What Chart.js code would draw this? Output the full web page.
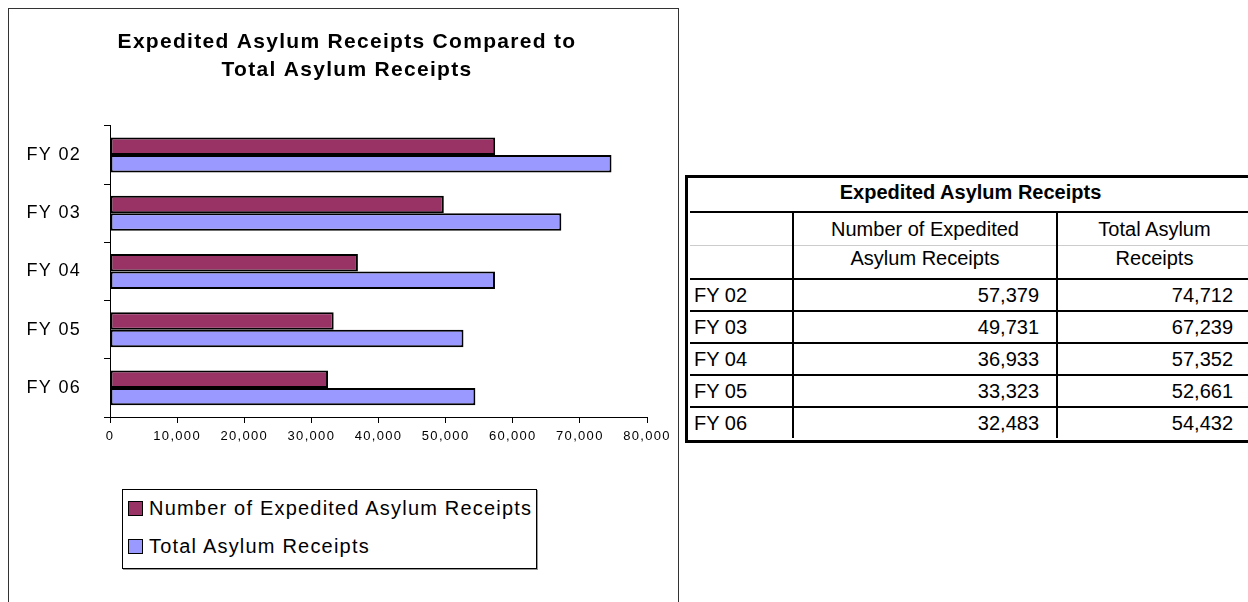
<!DOCTYPE html>
<html>
<head>
<meta charset="utf-8">
<script src="https://cdn.jsdelivr.net/npm/chart.js@4.4.0/dist/chart.umd.min.js"></script>
<style>
  body { margin: 0; background: #fff; width: 1248px; height: 602px; overflow: hidden; position: relative;
         font-family: "Liberation Sans", Arial, sans-serif; }
  #chartBox { position: absolute; left: 8px; top: 8px; width: 669px; height: 620px; border: 1px solid #333; }
  #canvasWrap { position: absolute; left: 0; top: 0; width: 669px; height: 470px; }
  #legend { position: absolute; left: 113px; top: 480px; width: 413px; height: 78px; border: 1px solid #000;
            box-shadow: 1px 1px 0 #999; padding: 0; }
  #legend div { height: 38px; line-height: 36px; font-size: 20px; letter-spacing: 1.2px; white-space: nowrap; }
  #legend span.sw { display: inline-block; width: 13px; height: 13px; border: 1px solid #000;
                    margin: 0 6px 0 5px; vertical-align: -1px; }
  #tableBox { position: absolute; left: 685px; top: 175px; width: 561px; border: 3px solid #000; padding: 2px; }
  table { border-collapse: collapse; width: 100%; font-size: 20px; }
  td { padding: 0 4px; height: 30px; line-height: 28px; }
  td.num { text-align: right; padding-right: 17px; }
  .title td { font-weight: bold; text-align: center; border-bottom: 2px solid #000; height: 31px;
              line-height: 24px; vertical-align: top; }
  .head td { text-align: center; height: 32px; }
  .head2 td { border-top: 1px solid #ccc; border-bottom: 2px solid #000; line-height: 24px; vertical-align: top; }
  .row td { border-bottom: 2px solid #000; }
  .row:last-child td { border-bottom: none; }
  td.c2, td.c3 { border-left: 2px solid #000; }
  td.c3.num { padding-right: 18px; }
</style>
</head>
<body>
<div id="chartBox">
  <div id="canvasWrap"><canvas id="bars"></canvas></div>
  <div id="legend"></div>
</div>
<div id="tableBox"><table id="dataTable"></table></div>
<script>
const years = ["FY 02", "FY 03", "FY 04", "FY 05", "FY 06"];
const expedited = [57379, 49731, 36933, 33323, 32483];
const totalReceipts = [74712, 67239, 57352, 52661, 54432];
const seriesNames = ["Number of Expedited Asylum Receipts", "Total Asylum Receipts"];
const seriesColors = ["#993366", "#9999ff"];

function fmt(n) {
    return n.toLocaleString("en-US");
}

// canvas text in the original is loosely spaced
const spacing = {
    id: "spacing",
    beforeUpdate(chart) { chart.ctx.letterSpacing = "1.3px"; },
    beforeDraw(chart) { chart.ctx.letterSpacing = "1.3px"; }
};

// the title sits a little right of the canvas centre
const titleShift = {
    id: "titleShift",
    afterLayout(chart) {
        if (chart.titleBlock) {
            chart.titleBlock.left += 19;
            chart.titleBlock.right += 19;
        }
    }
};

const chart = new Chart(document.getElementById("bars"), {
    type: "bar",
    data: {
        labels: years,
        datasets: [
            { label: seriesNames[0], data: expedited, backgroundColor: seriesColors[0] },
            { label: seriesNames[1], data: totalReceipts, backgroundColor: seriesColors[1] },
        ],
    },
    options: {
        indexAxis: "y",
        responsive: true,
        maintainAspectRatio: false,
        animation: false,
        datasets: {
            bar: { borderColor: "#000", borderWidth: 2, borderSkipped: false,
                   categoryPercentage: 0.6, barPercentage: 1 }
        },
        layout: { padding: { left: 0, right: 31, top: 0, bottom: 22 } },
        plugins: {
            legend: { display: false },
            tooltip: { enabled: false },
            title: {
                display: true,
                text: ["Expedited Asylum Receipts Compared to", "Total Asylum Receipts"],
                color: "#000",
                font: { family: "Liberation Sans", size: 21, weight: "bold", lineHeight: 1.33 },
                padding: { top: 19, bottom: 42 },
            },
        },
        scales: {
            x: {
                min: 0, max: 80000,
                ticks: { stepSize: 10000, color: "#000", padding: 6,
                         font: { family: "Liberation Sans", size: 13 },
                         callback: v => fmt(v) },
                grid: { drawOnChartArea: false, tickLength: 6, color: "#000" },
                border: { color: "#000", width: 1 },
                afterFit: s => { s.height = 40; },
            },
            y: {
                ticks: { color: "#000", padding: 23,
                         font: { family: "Liberation Sans", size: 18 } },
                grid: { drawOnChartArea: false, tickLength: 6, color: "#000", offset: true },
                border: { color: "#000", width: 1 },
                afterFit: s => { s.width = 101; },
            },
        },
    },
    plugins: [spacing, titleShift],
});

// legend built from the chart's datasets
const legend = document.getElementById("legend");
chart.data.datasets.forEach(ds => {
    let row = document.createElement("div");
    let sw = document.createElement("span");
    sw.className = "sw";
    sw.style.background = ds.backgroundColor;
    row.appendChild(sw);
    row.appendChild(document.createTextNode(ds.label));
    legend.appendChild(row);
});

// table
const table = document.getElementById("dataTable");
table.innerHTML =
    '<tr class="title"><td colspan="3">Expedited Asylum Receipts</td></tr>' +
    '<tr class="head"><td></td><td class="c2">Number of Expedited</td><td class="c3">Total Asylum</td></tr>' +
    '<tr class="head head2"><td></td><td class="c2">Asylum Receipts</td><td class="c3">Receipts</td></tr>';
for (let i = 0; i < years.length; i++) {
    let row = document.createElement("tr");
    row.className = "row";
    row.innerHTML = '<td style="width:94px">' + years[i] + '</td>' +
        '<td class="c2 num" style="width:241px">' + fmt(expedited[i]) + '</td>' +
        '<td class="c3 num">' + fmt(totalReceipts[i]) + '</td>';
    table.appendChild(row);
}
</script>
</body>
</html>
